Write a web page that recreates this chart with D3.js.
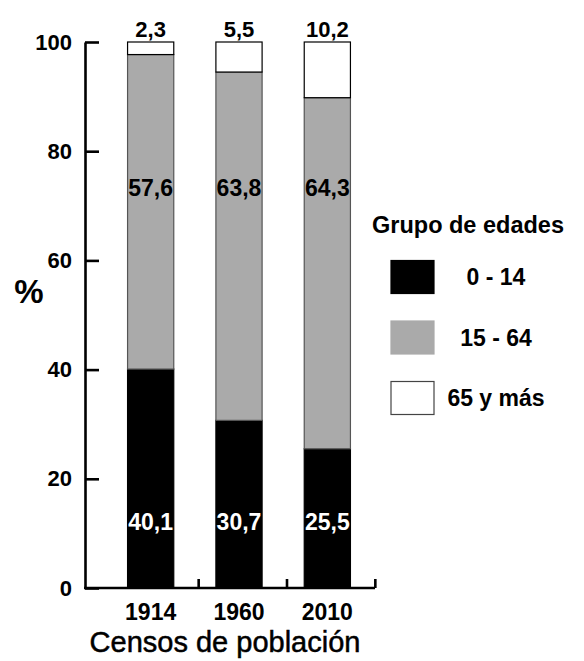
<!DOCTYPE html>
<html>
<head>
<meta charset="utf-8">
<style>
  body { margin: 0; background: #fff; }
  text { font-family: "Liberation Sans", Arial, sans-serif; }
</style>
</head>
<body>
<svg width="584" height="661"></svg>
<script src="https://d3js.org/d3.v7.min.js"></script>
<script>

var censos = ["1914", "1960", "2010"];
var grupos = ["0 - 14", "15 - 64", "65 y más"];
var edad0a14 = [40.1, 30.7, 25.5];
var edad15a64 = [57.6, 63.8, 64.3];
var edad65mas = [2.3, 5.5, 10.2];
var yTicks = [0, 20, 40, 60, 80, 100];

var colores = ["#000000", "#aaaaaa", "#ffffff"];
var bordes = ["#000000", "#555555", "#000000"];

var svg = d3.select("svg");

var data = censos.map(function(c, i) {
  return { censo: c, "0 - 14": edad0a14[i], "15 - 64": edad15a64[i], "65 y más": edad65mas[i] };
});

var series = d3.stack().keys(grupos)(data);

var x = d3.scaleBand()
    .domain(censos)
    .range([94, 384])
    .paddingInner(0.477)
    .paddingOuter(0.38);

var y = d3.scaleLinear()
    .domain([0, 100])
    .range([588, 42]);

// bars
series.forEach(function(s, k) {
  svg.append("g")
    .selectAll("rect")
    .data(s)
    .enter().append("rect")
      .attr("x", function(d) { return x(d.data.censo); })
      .attr("y", function(d) { return y(d[1]); })
      .attr("width", x.bandwidth())
      .attr("height", function(d) { return y(d[0]) - y(d[1]); })
      .attr("fill", colores[k])
      .attr("stroke", bordes[k])
      .attr("stroke-width", 1.2);
});

// value labels
svg.append("g").selectAll("text")
  .data(data)
  .enter().append("text")
    .attr("x", function(d) { return x(d.censo) + x.bandwidth() / 2; })
    .attr("y", y(10.7))
    .attr("text-anchor", "middle")
    .attr("fill", "#fff")
    .attr("font-weight", "bold")
    .attr("font-size", 23)
    .text(function(d) { return String(d["0 - 14"]).replace(".", ","); });

svg.append("g").selectAll("text")
  .data(data)
  .enter().append("text")
    .attr("x", function(d) { return x(d.censo) + x.bandwidth() / 2; })
    .attr("y", y(71.8))
    .attr("text-anchor", "middle")
    .attr("fill", "#000")
    .attr("font-weight", "bold")
    .attr("font-size", 23)
    .text(function(d) { return String(d["15 - 64"]).replace(".", ","); });

svg.append("g").selectAll("text")
  .data(data)
  .enter().append("text")
    .attr("x", function(d) { return x(d.censo) + x.bandwidth() / 2; })
    .attr("y", y(100) - 5)
    .attr("text-anchor", "middle")
    .attr("fill", "#000")
    .attr("font-weight", "bold")
    .attr("font-size", 22)
    .text(function(d) { return String(d["65 y más"]).replace(".", ","); });

// y axis
var yAxis = svg.append("g")
    .attr("transform", "translate(85,0)")
    .call(d3.axisLeft(y).tickValues(yTicks).tickSize(-14).tickSizeOuter(0).tickPadding(13));
yAxis.select(".domain").attr("stroke-width", 2.6);
yAxis.selectAll(".tick line").attr("stroke-width", 2.6);
yAxis.selectAll(".tick text")
    .attr("font-family", "Liberation Sans, Arial, sans-serif")
    .attr("font-weight", "bold")
    .attr("font-size", 22)
    .attr("fill", "#000");

svg.append("text")
    .attr("x", 29)
    .attr("y", 303)
    .attr("text-anchor", "middle")
    .attr("font-weight", "bold")
    .attr("font-size", 33)
    .text("%");

// x axis
var xAxis = svg.append("g");
xAxis.append("line")
    .attr("x1", 84).attr("x2", 375)
    .attr("y1", y(0)).attr("y2", y(0))
    .attr("stroke", "#000")
    .attr("stroke-width", 2.6);
xAxis.selectAll(".xtick")
  .data(censos)
  .enter().append("line")
    .attr("x1", function(d) { return x(d) + x.bandwidth() / 2 + 48; })
    .attr("x2", function(d) { return x(d) + x.bandwidth() / 2 + 48; })
    .attr("y1", y(0))
    .attr("y2", y(0) - 9)
    .attr("stroke", "#000")
    .attr("stroke-width", 2.6);
xAxis.selectAll(".xlabel")
  .data(censos)
  .enter().append("text")
    .attr("x", function(d) { return x(d) + x.bandwidth() / 2; })
    .attr("y", 620)
    .attr("text-anchor", "middle")
    .attr("font-weight", "bold")
    .attr("font-size", 23)
    .text(function(d) { return d; });

svg.append("text")
    .attr("x", 225)
    .attr("y", 652)
    .attr("text-anchor", "middle")
    .attr("font-size", 29)
    .attr("stroke", "#000")
    .attr("stroke-width", 0.5)
    .text("Censos de población");

// legend
var legend = svg.append("g");
legend.append("text")
    .attr("x", 372)
    .attr("y", 233)
    .attr("font-weight", "bold")
    .attr("font-size", 23.5)
    .text("Grupo de edades");

var ly = d3.scalePoint().domain(grupos).range([277, 398]);

legend.selectAll("rect")
  .data(grupos)
  .enter().append("rect")
    .attr("x", 391)
    .attr("y", function(d) { return ly(d) - 16.5; })
    .attr("width", 43)
    .attr("height", 33)
    .attr("fill", function(d, i) { return colores[i]; })
    .attr("stroke", function(d, i) { return i === 2 ? "#444" : colores[i]; })
    .attr("stroke-width", 1.2);

legend.selectAll(".lt")
  .data(grupos)
  .enter().append("text")
    .attr("x", 496)
    .attr("y", function(d) { return ly(d); })
    .attr("dy", "0.36em")
    .attr("text-anchor", "middle")
    .attr("font-weight", "bold")
    .attr("font-size", 23)
    .text(function(d) { return d; });

</script>
</body>
</html>
